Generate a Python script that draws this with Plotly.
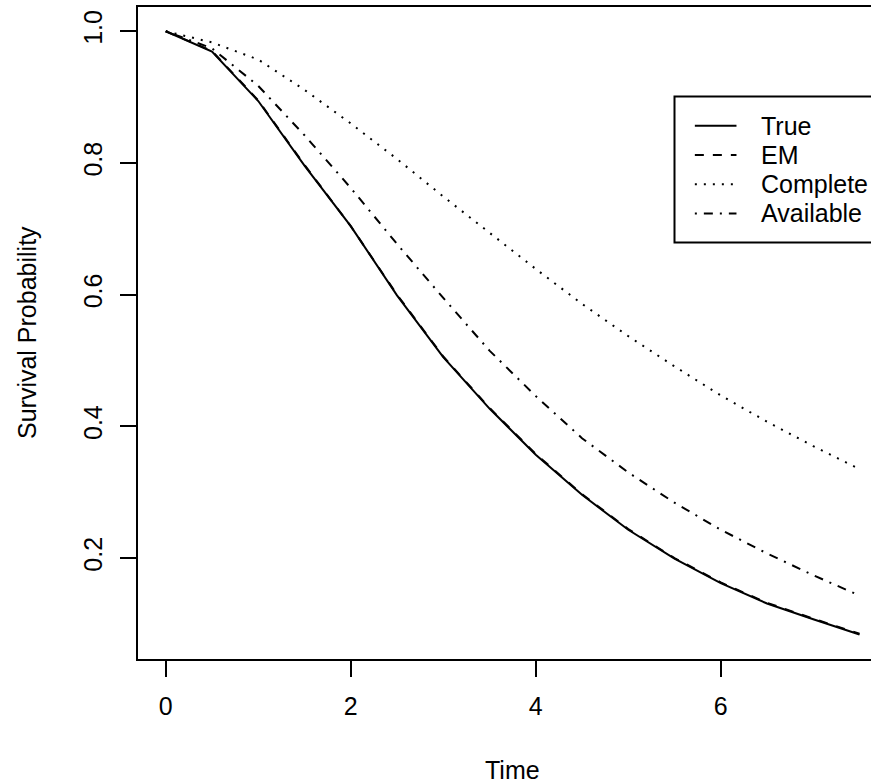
import plotly.graph_objects as go

# Survival curves evaluated on a half-unit time grid
time = [0.0, 0.5, 1.0, 1.5, 2.0, 2.5, 3.0, 3.5, 4.0, 4.5, 5.0, 5.5, 6.0, 6.5, 7.0, 7.5]
surv_true = [1.000, 0.969, 0.894, 0.796, 0.704, 0.599, 0.505, 0.427,
             0.357, 0.296, 0.243, 0.199, 0.162, 0.131, 0.107, 0.084]
surv_em = [1.000, 0.970, 0.895, 0.797, 0.704, 0.600, 0.506, 0.428,
           0.358, 0.297, 0.244, 0.200, 0.163, 0.132, 0.108, 0.085]
surv_complete = [1.000, 0.983, 0.957, 0.911, 0.860, 0.806, 0.749, 0.694,
                 0.639, 0.586, 0.537, 0.491, 0.447, 0.407, 0.370, 0.335]
surv_available = [1.000, 0.974, 0.917, 0.842, 0.762, 0.677, 0.595, 0.515,
                  0.446, 0.382, 0.330, 0.284, 0.243, 0.207, 0.174, 0.143]

series_names = ["True", "EM", "Complete", "Available"]
x_ticks = [0, 2, 4, 6]
y_ticks = [0.2, 0.4, 0.6, 0.8, 1.0]

# R-style line types (solid, dashed, dotted, dotdash)
DASH = {
    "True": "solid",
    "EM": "9px,9px",
    "Complete": "2px,7px",
    "Available": "2px,7px,9px,7px",
}
LW = 2
FONT = "Liberation Sans, Arial, Helvetica, sans-serif"
FS = 25

W, H = 871, 784
ML, MT, MB = 138, 7, 125
px_per_x = 92.5
x_lo = -0.3
x_hi = x_lo + (W - ML) / px_per_x
y_lo, y_hi = 0.0467, 1.0368

fig = go.Figure()
curves = {"True": surv_true, "EM": surv_em, "Complete": surv_complete, "Available": surv_available}
for name in ["EM", "Complete", "Available", "True"]:
    fig.add_trace(go.Scatter(
        x=time, y=curves[name], mode="lines", name=name,
        line=dict(color="black", width=LW, dash=DASH[name]),
        showlegend=False, hoverinfo="skip",
    ))

# Legend box anchored at (5.5, 0.9) in data units
leg_x, leg_y = 5.5, 0.901
row = 0.0444
seg_x0, seg_x1, txt_x = 5.72, 6.17, 6.41
shapes = [dict(type="rect", xref="x", yref="y", x0=leg_x, x1=8.2,
               y0=leg_y - row * (len(series_names) + 1), y1=leg_y,
               line=dict(color="black", width=LW), fillcolor="white", layer="above")]
annotations = []
for i, name in enumerate(series_names):
    yy = leg_y - row * (i + 1)
    shapes.append(dict(type="line", xref="x", yref="y", x0=seg_x0, x1=seg_x1, y0=yy, y1=yy,
                       line=dict(color="black", width=LW, dash=DASH[name]), layer="above"))
    annotations.append(dict(x=txt_x, y=yy, xref="x", yref="y", text=name, showarrow=False,
                            xanchor="left", yanchor="middle",
                            font=dict(family=FONT, size=FS, color="black")))

# Axis titles, centred on the full plotting region
annotations.append(dict(x=(x_lo + 7.8) / 2, y=0, xref="x", yref="paper", text="Time",
                        showarrow=False, xanchor="center", yanchor="middle", yshift=-111,
                        font=dict(family=FONT, size=FS, color="black")))
annotations.append(dict(x=0, y=0.5, xref="paper", yref="paper", text="Survival Probability",
                        showarrow=False, xanchor="center", yanchor="middle", xshift=-111,
                        textangle=-90, font=dict(family=FONT, size=FS, color="black")))

fig.update_layout(
    width=W, height=H,
    margin=dict(l=ML, r=0, t=MT, b=MB, pad=0),
    paper_bgcolor="white", plot_bgcolor="white",
    font=dict(family=FONT, size=FS, color="black"),
    shapes=shapes, annotations=annotations,
    showlegend=False,
)
fig.update_xaxes(
    range=[x_lo, x_hi], tickvals=x_ticks, ticktext=[str(v) for v in x_ticks],
    showgrid=False, zeroline=False, showline=True, linecolor="black", linewidth=LW,
    mirror=True, ticks="outside", ticklen=16, tickwidth=LW, tickcolor="black",
    ticklabelstandoff=8, automargin=False,
)
fig.update_yaxes(
    range=[y_lo, y_hi], tickvals=y_ticks, ticktext=[f"{v:.1f}" for v in y_ticks],
    showgrid=False, zeroline=False, showline=True, linecolor="black", linewidth=LW,
    mirror=False, ticks="outside", ticklen=16, tickwidth=LW, tickcolor="black",
    tickangle=-90, ticklabelstandoff=8, automargin=False,
)

fig.write_html("out.html", config={"displayModeBar": False})
